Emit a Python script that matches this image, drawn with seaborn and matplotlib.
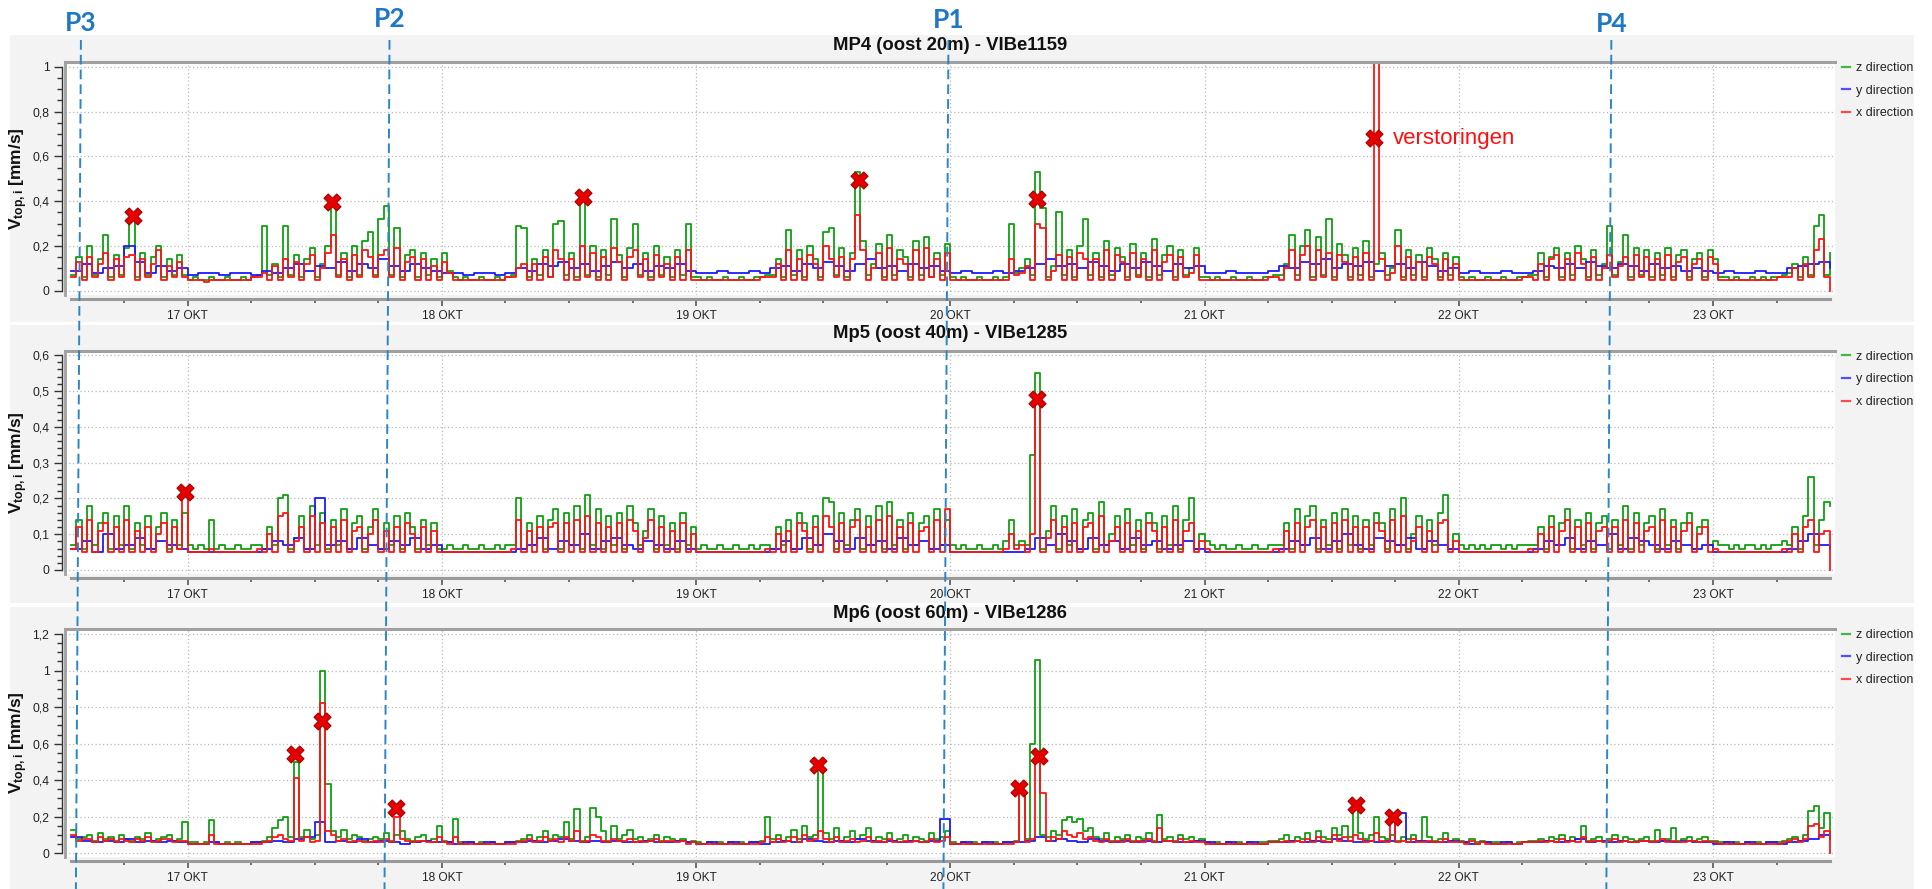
import numpy as np
import pandas as pd
import matplotlib
matplotlib.use("Agg")
import matplotlib.pyplot as plt
import matplotlib.dates as mdates
from matplotlib.lines import Line2D
from matplotlib.patches import Rectangle
from matplotlib.ticker import MultipleLocator, FuncFormatter
import seaborn as sns

# --- DATA (values in 1/100 mm/s) ---
# z / x: every 30 min from 16 OKT 13:00 to 23 OKT 11:00, y: hourly
mp4_z = [7, 15, 6, 20, 7, 14, 25, 6, 16, 7, 19, 32, 6, 17, 7, 15, 20, 6, 14, 7, 16, 7,
         5, 6, 5, 5, 6, 5, 5, 6, 5, 5, 6, 5, 6, 7, 29, 7, 12, 6, 29, 7, 16, 6, 14, 19, 6, 12, 20, 38, 7, 17, 6, 20, 7, 22, 26, 7, 32, 38, 7, 28, 6, 16, 18, 6, 17, 7, 14, 6,
         17, 9, 6, 5, 6, 5, 5, 6, 5, 5, 6, 5, 6, 7, 29, 28, 6, 14, 7, 18, 6, 30, 31, 7, 17, 6, 41, 7, 20, 6, 18, 7, 32, 16, 6, 19, 30, 7, 17, 6, 20, 7, 15, 6, 18, 7, 30, 6,
         6, 5, 6, 5, 5, 6, 5, 5, 6, 5, 5, 6, 6, 7, 7, 14, 6, 27, 7, 18, 6, 20, 14, 6, 26, 28, 7, 19, 6, 17, 53, 22, 7, 12, 21, 6, 25, 7, 18, 15, 6, 22, 7, 24, 6, 17, 7, 21,
         6, 5, 6, 5, 5, 6, 5, 5, 6, 5, 6, 30, 8, 10, 14, 7, 53, 37, 6, 11, 35, 7, 18, 6, 20, 32, 7, 17, 6, 22, 7, 19, 15, 6, 21, 7, 17, 6, 23, 7, 16, 20, 6, 18, 7, 10, 19, 6,
         6, 5, 6, 5, 5, 6, 5, 5, 6, 5, 5, 6, 6, 7, 7, 12, 25, 7, 20, 27, 6, 24, 7, 32, 6, 21, 16, 6, 19, 7, 22, 6, 12, 17, 7, 10, 27, 6, 18, 7, 16, 6, 19, 14, 6, 17, 7, 15,
         6, 5, 6, 5, 5, 6, 5, 5, 6, 5, 5, 6, 6, 7, 7, 17, 6, 15, 19, 6, 17, 7, 20, 14, 6, 18, 7, 12, 29, 7, 13, 25, 6, 19, 7, 18, 6, 17, 7, 19, 6, 16, 18, 6, 14, 17, 6, 18,
         14, 6, 6, 5, 6, 5, 5, 6, 5, 6, 5, 6, 6, 7, 8, 12, 6, 15, 7, 29, 34, 7, 17]
mp4_x = [6, 13, 5, 15, 6, 12, 17, 5, 14, 6, 15, 16, 5, 14, 6, 12, 18, 5, 11, 6, 13, 6,
         5, 5, 5, 4, 5, 5, 5, 5, 5, 5, 5, 5, 6, 6, 8, 5, 11, 5, 14, 6, 13, 5, 12, 16, 5, 10, 17, 25, 6, 14, 5, 16, 6, 18, 15, 6, 16, 18, 6, 19, 5, 13, 15, 5, 14, 5, 11, 5,
         13, 8, 5, 5, 5, 5, 5, 5, 5, 5, 5, 5, 6, 6, 10, 12, 5, 12, 5, 15, 6, 18, 14, 5, 14, 5, 20, 6, 17, 5, 15, 5, 19, 13, 5, 15, 18, 6, 14, 5, 16, 6, 12, 5, 15, 5, 18, 5,
         5, 5, 5, 5, 5, 5, 5, 5, 5, 5, 5, 5, 6, 6, 6, 12, 5, 18, 5, 14, 5, 16, 12, 5, 20, 14, 6, 15, 5, 14, 34, 18, 5, 10, 17, 5, 19, 5, 14, 12, 5, 18, 5, 19, 6, 14, 5, 17,
         5, 5, 5, 5, 5, 5, 5, 5, 5, 5, 5, 14, 7, 8, 11, 5, 30, 28, 5, 9, 16, 5, 15, 5, 17, 14, 5, 14, 5, 18, 5, 16, 13, 5, 17, 6, 14, 5, 18, 5, 13, 16, 5, 15, 6, 8, 16, 5,
         5, 5, 5, 5, 5, 5, 5, 5, 5, 5, 5, 5, 6, 6, 5, 10, 18, 5, 16, 20, 5, 18, 6, 17, 5, 16, 13, 5, 15, 5, 17, 5, 150, 14, 5, 8, 20, 5, 15, 5, 13, 5, 15, 12, 5, 14, 5, 12,
         5, 5, 5, 5, 5, 5, 5, 5, 5, 5, 5, 5, 6, 6, 5, 12, 5, 14, 16, 5, 14, 5, 17, 12, 5, 15, 5, 10, 16, 6, 11, 15, 5, 16, 6, 15, 5, 14, 5, 16, 5, 13, 15, 5, 12, 14, 5, 15,
         12, 5, 5, 5, 5, 5, 5, 5, 5, 5, 5, 5, 6, 6, 6, 10, 5, 12, 6, 18, 23, 6, 0]
mp4_y = [9, 12, 8, 10, 11, 20, 13, 8, 11, 9, 10,
         7, 8, 8, 7, 8, 8, 7, 9, 8, 10, 12, 9, 11, 10, 13, 9, 12, 10, 14, 11, 9, 12, 10, 9,
         8, 8, 7, 8, 8, 7, 8, 10, 9, 12, 11, 13, 10, 12, 9, 11, 13, 10, 12, 9, 11, 10, 12, 9,
         8, 8, 9, 8, 8, 9, 8, 10, 11, 9, 12, 10, 13, 11, 9, 12, 14, 10, 11, 9, 12, 10, 11, 9,
         8, 9, 8, 8, 9, 8, 9, 10, 12, 14, 11, 12, 10, 13, 11, 9, 12, 10, 13, 11, 9, 12, 10, 11,
         8, 8, 9, 8, 8, 8, 9, 11, 10, 13, 12, 14, 10, 12, 11, 13, 9, 11, 12, 10, 13, 11, 9, 10,
         8, 9, 8, 8, 9, 8, 8, 9, 11, 10, 12, 10, 13, 11, 10, 12, 11, 9, 12, 10, 11, 9, 10, 9,
         8, 9, 8, 8, 9, 8, 8, 10, 11, 12, 13, 10]

mp5_z = [7, 14, 6, 18, 7, 13, 16, 6, 15, 7, 18, 6, 13, 7, 15, 6, 12, 16, 6, 14, 7, 16,
         7, 6, 7, 6, 14, 6, 7, 6, 6, 7, 6, 6, 7, 7, 6, 12, 7, 20, 21, 6, 9, 15, 6, 18, 7, 16, 6, 14, 7, 17, 6, 13, 15, 6, 12, 17, 6, 13, 7, 15, 6, 16, 12, 6, 14, 7, 13, 6,
         6, 7, 6, 6, 7, 6, 6, 7, 6, 6, 7, 6, 7, 7, 20, 6, 13, 7, 15, 6, 14, 17, 6, 16, 7, 18, 6, 21, 7, 17, 6, 15, 7, 16, 6, 18, 13, 7, 11, 17, 6, 15, 7, 13, 6, 16, 7, 12,
         6, 7, 6, 6, 7, 6, 6, 7, 6, 6, 7, 6, 7, 7, 6, 12, 7, 14, 6, 16, 13, 6, 15, 7, 20, 19, 6, 16, 7, 14, 17, 6, 15, 7, 18, 6, 19, 7, 14, 6, 16, 7, 13, 15, 6, 17, 7, 14,
         7, 6, 7, 6, 6, 7, 6, 6, 7, 6, 8, 14, 7, 8, 7, 32, 55, 6, 11, 18, 6, 15, 7, 17, 6, 14, 16, 6, 19, 7, 10, 15, 6, 17, 7, 14, 6, 16, 13, 6, 15, 7, 18, 6, 14, 20, 6, 10,
         8, 7, 6, 7, 6, 6, 7, 6, 6, 7, 6, 6, 7, 7, 7, 13, 6, 17, 7, 15, 18, 6, 14, 7, 16, 6, 17, 7, 15, 6, 14, 7, 16, 13, 6, 17, 7, 20, 6, 10, 15, 6, 14, 7, 16, 21, 6, 10,
         7, 6, 7, 6, 7, 6, 7, 7, 6, 7, 6, 7, 7, 7, 7, 12, 6, 15, 7, 13, 17, 6, 14, 7, 16, 6, 13, 15, 6, 14, 7, 18, 6, 16, 7, 13, 15, 6, 17, 7, 14, 6, 13, 16, 6, 12, 14, 7,
         8, 7, 7, 6, 7, 6, 7, 7, 6, 7, 6, 7, 7, 8, 7, 12, 6, 15, 26, 7, 14, 19, 18]
mp5_x = [6, 12, 5, 14, 5, 11, 13, 5, 12, 5, 14, 5, 11, 5, 12, 5, 10, 13, 5, 12, 6, 21,
         5, 5, 5, 5, 6, 5, 5, 5, 5, 5, 5, 5, 5, 6, 5, 10, 5, 15, 16, 5, 8, 12, 5, 15, 5, 13, 5, 12, 5, 14, 5, 11, 12, 5, 10, 14, 5, 11, 5, 12, 5, 13, 10, 5, 12, 5, 11, 5,
         5, 5, 5, 5, 5, 5, 5, 5, 5, 5, 5, 5, 5, 6, 14, 5, 11, 5, 12, 5, 12, 13, 5, 13, 5, 14, 5, 15, 5, 13, 5, 12, 5, 13, 5, 14, 11, 5, 9, 14, 5, 12, 5, 11, 5, 13, 5, 10,
         5, 5, 5, 5, 5, 5, 5, 5, 5, 5, 5, 5, 5, 6, 5, 10, 5, 11, 5, 13, 11, 5, 12, 5, 15, 12, 5, 13, 5, 12, 14, 5, 12, 5, 14, 5, 15, 5, 12, 5, 13, 5, 11, 12, 5, 14, 5, 17,
         5, 5, 5, 5, 5, 5, 5, 5, 5, 5, 6, 10, 6, 7, 5, 10, 47, 5, 9, 14, 5, 12, 5, 13, 5, 12, 13, 5, 15, 5, 8, 12, 5, 13, 5, 11, 5, 13, 11, 5, 12, 5, 14, 5, 11, 13, 5, 8,
         6, 5, 5, 5, 5, 5, 5, 5, 5, 5, 5, 5, 5, 6, 5, 11, 5, 13, 5, 12, 14, 5, 12, 5, 13, 5, 14, 5, 12, 5, 12, 5, 13, 11, 5, 14, 5, 15, 5, 8, 12, 5, 11, 5, 13, 14, 5, 8,
         5, 5, 5, 5, 5, 5, 5, 5, 5, 5, 5, 5, 5, 6, 5, 10, 5, 12, 5, 11, 14, 5, 12, 5, 13, 5, 11, 12, 5, 12, 5, 14, 5, 13, 5, 11, 12, 5, 14, 5, 12, 5, 11, 13, 5, 10, 12, 5,
         6, 5, 5, 5, 5, 5, 5, 5, 5, 5, 5, 5, 5, 6, 5, 10, 5, 12, 14, 5, 10, 11, 0]
mp5_y = [6, 8, 5, 10, 6, 7, 9, 6, 8, 7, 6,
         5, 5, 5, 5, 5, 5, 5, 6, 8, 7, 9, 6, 20, 7, 8, 6, 9, 7, 6, 8, 7, 9, 6, 7,
         5, 5, 5, 5, 5, 5, 5, 6, 7, 9, 6, 8, 7, 10, 6, 8, 9, 7, 6, 8, 7, 6, 8, 6,
         5, 5, 5, 5, 5, 5, 5, 6, 8, 6, 9, 7, 10, 8, 6, 9, 7, 8, 6, 9, 7, 8, 6, 7,
         5, 5, 5, 5, 5, 5, 5, 6, 9, 7, 10, 8, 6, 9, 7, 8, 6, 9, 7, 8, 6, 7, 8, 6,
         5, 5, 5, 5, 5, 5, 5, 6, 8, 7, 9, 6, 8, 10, 7, 6, 9, 8, 7, 9, 6, 8, 7, 6,
         5, 5, 5, 5, 5, 5, 5, 6, 8, 7, 9, 6, 8, 7, 10, 6, 9, 8, 7, 6, 8, 7, 6, 7,
         5, 5, 5, 5, 5, 5, 5, 6, 8, 10, 7, 6]

mp6_z = [13, 8, 9, 10, 7, 11, 8, 9, 7, 10, 8, 7, 9, 8, 11, 7, 8, 9, 10, 7, 8, 17,
         6, 6, 5, 6, 18, 6, 5, 6, 5, 6, 5, 5, 6, 6, 7, 9, 14, 18, 20, 9, 50, 9, 13, 8, 10, 100, 38, 12, 9, 13, 8, 10, 9, 7, 8, 9, 8, 11, 7, 10, 12, 8, 7, 9, 10, 7, 8, 15,
         7, 6, 19, 6, 5, 6, 5, 6, 5, 6, 5, 5, 6, 6, 7, 8, 10, 7, 9, 12, 8, 10, 9, 17, 8, 24, 7, 9, 25, 20, 12, 7, 15, 8, 10, 13, 8, 9, 7, 8, 10, 7, 9, 8, 7, 8, 6, 7,
         6, 5, 6, 5, 6, 5, 6, 5, 6, 5, 6, 6, 7, 20, 8, 10, 7, 9, 13, 8, 15, 9, 10, 46, 11, 8, 14, 7, 9, 12, 8, 10, 14, 7, 9, 8, 11, 7, 8, 10, 7, 9, 8, 7, 11, 8, 9, 12,
         6, 5, 6, 5, 6, 5, 6, 5, 6, 5, 6, 6, 7, 34, 8, 60, 106, 10, 9, 12, 10, 18, 20, 17, 19, 12, 14, 9, 8, 11, 7, 9, 8, 10, 7, 9, 8, 11, 7, 21, 8, 9, 7, 10, 8, 9, 7, 8,
         6, 5, 6, 5, 6, 5, 6, 5, 6, 5, 6, 6, 7, 7, 8, 10, 7, 9, 8, 11, 7, 12, 9, 8, 14, 10, 15, 9, 26, 11, 8, 10, 20, 9, 8, 10, 7, 9, 8, 10, 7, 20, 9, 7, 8, 11, 7, 8,
         7, 6, 8, 6, 7, 6, 6, 6, 5, 6, 5, 6, 6, 7, 7, 8, 7, 9, 8, 10, 7, 9, 8, 15, 7, 8, 9, 7, 8, 10, 7, 9, 8, 7, 8, 9, 7, 13, 7, 8, 14, 7, 8, 9, 7, 8, 9, 7,
         7, 6, 6, 5, 6, 5, 6, 5, 6, 5, 6, 6, 6, 7, 8, 9, 7, 10, 23, 26, 14, 22, 10]
mp6_x = [10, 7, 8, 8, 6, 9, 7, 8, 6, 8, 7, 6, 8, 7, 9, 6, 7, 8, 8, 6, 7, 7,
         5, 5, 5, 5, 10, 5, 5, 5, 5, 5, 5, 5, 5, 5, 6, 7, 9, 10, 8, 7, 41, 7, 9, 6, 7, 82, 12, 10, 7, 8, 6, 7, 7, 6, 6, 7, 6, 8, 6, 20, 8, 7, 6, 7, 7, 6, 6, 9,
         6, 5, 9, 5, 5, 5, 5, 5, 5, 5, 5, 5, 5, 5, 6, 7, 8, 6, 7, 9, 7, 8, 6, 9, 7, 12, 6, 7, 10, 9, 7, 6, 8, 7, 7, 8, 6, 7, 6, 7, 8, 6, 7, 7, 6, 7, 5, 6,
         5, 5, 5, 5, 5, 5, 5, 5, 5, 5, 5, 5, 6, 9, 6, 8, 6, 7, 9, 6, 10, 7, 8, 12, 8, 6, 9, 6, 7, 8, 6, 7, 9, 6, 7, 6, 8, 6, 6, 7, 6, 7, 6, 6, 8, 6, 7, 9,
         5, 5, 5, 5, 5, 5, 5, 5, 5, 5, 5, 5, 6, 34, 6, 8, 50, 33, 7, 9, 8, 12, 10, 9, 11, 8, 9, 7, 6, 8, 6, 7, 6, 8, 6, 7, 6, 8, 6, 14, 7, 7, 6, 8, 6, 7, 6, 6,
         5, 5, 5, 5, 5, 5, 5, 5, 5, 5, 5, 5, 6, 6, 6, 7, 6, 7, 6, 8, 6, 9, 7, 6, 10, 7, 9, 7, 10, 8, 6, 7, 11, 7, 6, 20, 6, 7, 6, 8, 6, 6, 7, 6, 6, 8, 6, 6,
         6, 5, 7, 5, 6, 5, 5, 5, 5, 5, 5, 5, 6, 6, 6, 7, 6, 7, 6, 8, 6, 7, 6, 9, 6, 7, 7, 6, 7, 8, 6, 7, 6, 6, 7, 7, 6, 7, 8, 6, 7, 6, 6, 7, 7, 6, 7, 6,
         6, 5, 5, 5, 5, 5, 5, 5, 5, 5, 5, 5, 5, 6, 7, 8, 6, 8, 15, 16, 9, 12, 0]
mp6_y = [9, 7, 6, 7, 6, 8, 6, 7, 6, 7, 6,
         5, 5, 6, 5, 5, 5, 6, 6, 7, 6, 8, 9, 17, 6, 7, 6, 8, 6, 7, 6, 5, 6, 7, 6,
         6, 5, 6, 5, 6, 5, 6, 6, 7, 6, 7, 8, 7, 6, 7, 6, 7, 6, 6, 7, 6, 6, 7, 6,
         5, 6, 5, 6, 5, 6, 5, 6, 7, 6, 8, 7, 6, 7, 6, 8, 7, 6, 7, 6, 7, 6, 7, 19,
         5, 6, 5, 6, 5, 6, 6, 7, 9, 7, 8, 7, 6, 8, 7, 6, 7, 6, 7, 6, 7, 6, 6, 7,
         6, 5, 6, 5, 6, 5, 6, 6, 7, 6, 7, 6, 8, 7, 6, 7, 6, 7, 22, 6, 7, 6, 6, 7,
         6, 5, 6, 5, 6, 5, 6, 6, 7, 6, 7, 8, 6, 7, 6, 7, 6, 7, 6, 7, 6, 7, 6, 6,
         5, 6, 5, 6, 5, 6, 5, 6, 7, 8, 10, 8]

# red crosses (peaks marked by hand)
mp4_mark_t = ['2023-10-16 18:50', '2023-10-17 13:35', '2023-10-18 13:20', '2023-10-19 15:20', '2023-10-20 08:10', '2023-10-21 16:00']
mp4_mark_v = [0.333, 0.397, 0.418, 0.494, 0.41, 0.68]
mp5_mark_t = ['2023-10-16 23:45', '2023-10-20 08:10']
mp5_mark_v = [0.217, 0.477]
mp6_mark_t = ['2023-10-17 10:10', '2023-10-17 12:40', '2023-10-17 19:40', '2023-10-19 11:30',
              '2023-10-20 06:30', '2023-10-20 08:20', '2023-10-21 14:15', '2023-10-21 17:50']
mp6_mark_v = [0.542, 0.724, 0.25, 0.483, 0.36, 0.53, 0.264, 0.20]

# pile moments
p_names = ['P3', 'P2', 'P1', 'P4']
p_times = ['2023-10-16 13:41', '2023-10-17 18:49', '2023-10-19 23:35', '2023-10-22 14:10']
p_label_y = [23, 19, 20, 24]

directions = ['z direction', 'y direction', 'x direction']
palette = {'z direction': '#0fa00f', 'y direction': '#1a1aff', 'x direction': '#ff1414'}

# --- STYLE ---
plt.rcParams['font.family'] = ['Liberation Sans', 'DejaVu Sans']
plt.rcParams['mathtext.fontset'] = 'custom'
plt.rcParams['mathtext.rm'] = 'Liberation Sans'
plt.rcParams['mathtext.bf'] = 'Liberation Sans:bold'
plt.rcParams['mathtext.it'] = 'Liberation Sans:italic'

W, H = 1932, 889
fig = plt.figure(figsize=(W / 100, H / 100), dpi=100)
fig.patch.set_facecolor('white')

half = pd.date_range('2023-10-16 13:00', periods=len(mp4_z), freq='30min')
hour = pd.date_range('2023-10-16 13:00', periods=len(mp4_y), freq='h')


def long_frame(z, y, x):
    return pd.concat([
        pd.DataFrame({'time': half, 'v': np.array(z) / 100, 'dir': 'z direction'}),
        pd.DataFrame({'time': hour, 'v': np.array(y) / 100, 'dir': 'y direction'}),
        pd.DataFrame({'time': half, 'v': np.array(x) / 100, 'dir': 'x direction'}),
    ], ignore_index=True)


# panel layout in pixels: background span, axes top/bottom, pixel of y=0, px per unit
panels = [
    dict(title='MP4 (oost 20m) - VIBe1159', df=long_frame(mp4_z, mp4_y, mp4_x), bg=(35, 322),
         top=62, bottom=295, zero=290.7, ppu=224.0, major=0.2, minor=0.05, ymax=1.0,
         mt=mp4_mark_t, mv=mp4_mark_v, ty=45),
    dict(title='Mp5 (oost 40m) - VIBe1285', df=long_frame(mp5_z, mp5_y, mp5_x), bg=(325, 603),
         top=350.7, bottom=574, zero=570.0, ppu=358.3, major=0.1, minor=0.02, ymax=0.6,
         mt=mp5_mark_t, mv=mp5_mark_v, ty=334),
    dict(title='Mp6 (oost 60m) - VIBe1286', df=long_frame(mp6_z, mp6_y, mp6_x), bg=(607, 889),
         top=629, bottom=857, zero=853.3, ppu=182.75, major=0.2, minor=0.05, ymax=1.2,
         mt=mp6_mark_t, mv=mp6_mark_v, ty=613),
]

ax_left, ax_right = 65, 1835
yfmt = FuncFormatter(lambda v, p: '0' if abs(v) < 1e-9 else ('%g' % round(v, 2)).replace('.', ','))
xfmt = FuncFormatter(lambda v, p: f"{mdates.num2date(v).day} OKT")

axes = []
for pn in panels:
    y0, y1 = pn['bg']
    fig.add_artist(Rectangle((10 / W, 1 - y1 / H), 1904 / W, (y1 - y0) / H, transform=fig.transFigure,
                             facecolor='#f3f3f3', edgecolor='none', zorder=-1))
    ax = fig.add_axes([ax_left / W, 1 - pn['bottom'] / H, (ax_right - ax_left) / W, (pn['bottom'] - pn['top']) / H])
    ax.set_facecolor('white')

    sns.lineplot(data=pn['df'], x='time', y='v', hue='dir', hue_order=directions, palette=palette,
                 estimator=None, drawstyle='steps-post', lw=1.3, ax=ax)
    sns.scatterplot(x=pd.to_datetime(pn['mt']), y=pn['mv'], marker='X', s=150, color='#e60000',
                    edgecolor='#a80000', linewidth=0.8, zorder=6, legend=False, ax=ax)

    ax.set_xlim(pd.Timestamp('2023-10-16 12:25'), pd.Timestamp('2023-10-23 11:31'))
    ax.set_ylim(-(pn['bottom'] - pn['zero']) / pn['ppu'], (pn['zero'] - pn['top']) / pn['ppu'])

    ax.xaxis.set_major_locator(mdates.DayLocator())
    ax.xaxis.set_minor_locator(mdates.HourLocator(byhour=[6, 12, 18]))
    ax.xaxis.set_major_formatter(xfmt)
    ax.yaxis.set_major_locator(MultipleLocator(pn['major']))
    ax.yaxis.set_minor_locator(MultipleLocator(pn['minor']))
    ax.yaxis.set_major_formatter(yfmt)

    ax.grid(True, which='major', ls=(0, (1, 2)), color='#b8b8b8', lw=0.9)
    ax.set_axisbelow(True)

    ax.spines['right'].set_visible(False)
    ax.spines['top'].set_color('#a0a0a0')
    ax.spines['top'].set_linewidth(2.2)
    ax.spines['left'].set_position(('outward', 2.2))
    ax.spines['left'].set_bounds(0, pn['ymax'])
    ax.spines['left'].set_color('#333333')
    ax.spines['left'].set_linewidth(1.0)
    ax.spines['bottom'].set_position(('outward', 3))
    ax.spines['bottom'].set_bounds(mdates.date2num(half[0]), mdates.date2num(half[-1]))
    ax.spines['bottom'].set_color('#9a9a9a')
    ax.spines['bottom'].set_linewidth(2.2)
    # left edge of the sunken plot frame
    ax.plot([0, 0], [0, 1], transform=ax.transAxes, color='#a0a0a0', lw=2.0, clip_on=False, zorder=7)

    ax.tick_params(axis='y', which='major', length=5.5, width=1, color='#333333', pad=3.5,
                   labelsize=8.8, labelcolor='#222222')
    ax.tick_params(axis='y', which='minor', length=3.5, width=1, color='#333333')
    ax.tick_params(axis='x', which='major', length=5, width=1.2, color='#555555', pad=3,
                   labelsize=8.6, labelcolor='#222222')
    ax.tick_params(axis='x', which='minor', length=3, width=1.2, color='#555555')

    ax.set_xlabel('')
    ax.set_ylabel(r'$\mathbf{V_{top,i}}$ [mm/s]', fontsize=12.5, fontweight='bold', color='#111111')
    ax.yaxis.set_label_coords(-0.0198, 0.5)

    sns.move_legend(ax, 'upper left', bbox_to_anchor=(1.004, 1.0), frameon=False, title='',
                    fontsize=9, handlelength=0.6, handletextpad=0.5, labelspacing=0.85,
                    borderpad=0, borderaxespad=0)
    for txt in ax.get_legend().get_texts():
        txt.set_color('#222222')
    for ln in ax.get_legend().get_lines():
        ln.set_linewidth(1.6)
        ln.set_alpha(0.75)

    fig.text(950 / W, 1 - pn['ty'] / H, pn['title'], ha='center', va='center',
             fontsize=13.3, fontweight='bold', color='#111111')
    axes.append(ax)

# annotation for the disturbance in MP4
axes[0].annotate('verstoringen', xy=(pd.Timestamp(mp4_mark_t[-1]), mp4_mark_v[-1]), xytext=(13.5, 0),
                 textcoords='offset points', ha='left', va='center', fontsize=16, color='#ff1010')

# dashed pile lines across all panels
fig.canvas.draw()
for name, t, ly in zip(p_names, p_times, p_label_y):
    xp = axes[0].transData.transform((mdates.date2num(pd.Timestamp(t)), 0))[0]
    fig.add_artist(Line2D([(xp + 2.5) / W, (xp - 2.5) / W], [1 - 40 / H, 0], transform=fig.transFigure,
                          color='#2b86c8', lw=1.4, ls=(0, (5, 2.6)), zorder=20))
    fig.text((xp + 2.5) / W, 1 - ly / H, name, ha='center', va='center', fontsize=19,
             fontweight='bold', color='#1f78c4', family=['Lato', 'DejaVu Sans'])

fig.savefig('out.png', dpi=100)
